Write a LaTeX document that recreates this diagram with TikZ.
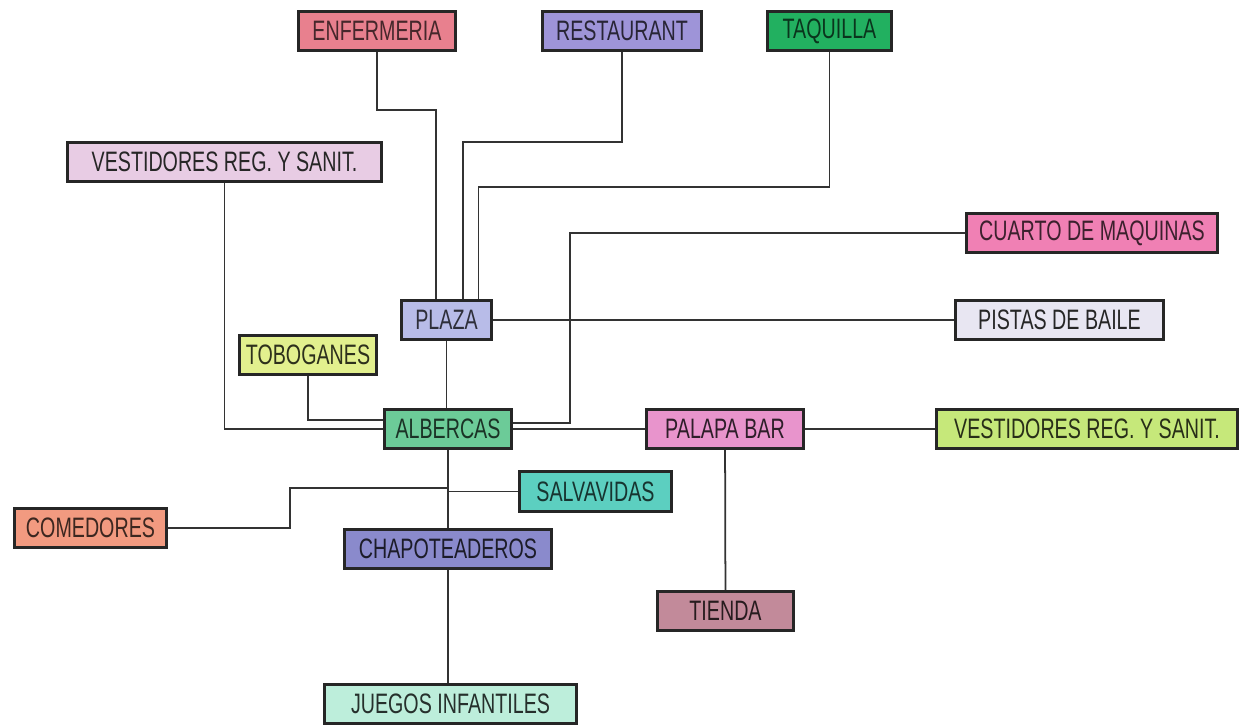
\documentclass[tikz,border=0pt]{standalone}
\usepackage{fontspec}
\newfontfamily\letracaja[FakeStretch=0.7]{Liberation Sans}
% colores de relleno
\definecolor{cEnf}{HTML}{E8808E}
\definecolor{cRest}{HTML}{9E94D8}
\definecolor{cTaq}{HTML}{22B060}
\definecolor{cVestI}{HTML}{E8CCE4}
\definecolor{cCuarto}{HTML}{F080B4}
\definecolor{cPlaza}{HTML}{B8BCE8}
\definecolor{cPistas}{HTML}{E8E6F2}
\definecolor{cTobog}{HTML}{E2F08E}
\definecolor{cAlb}{HTML}{6CCB98}
\definecolor{cPalapa}{HTML}{E894CC}
\definecolor{cVestD}{HTML}{C6E87A}
\definecolor{cSalv}{HTML}{5CCFC0}
\definecolor{cComed}{HTML}{F29A80}
\definecolor{cChapo}{HTML}{8A8ACC}
\definecolor{cTienda}{HTML}{C28A9A}
\definecolor{cJuegos}{HTML}{BDEEDB}
\tikzset{
  caja/.style={draw=black!85, line width=1.5pt, inner sep=0pt,
    minimum height=0.79cm, font=\letracaja\fontsize{16}{18}\selectfont},
  linea/.style={draw=black!80, line width=1pt}
}
\begin{document}
\begin{tikzpicture}[x=0.02cm,y=-0.02cm]
    \useasboundingbox (0,0) rectangle (1241,726);

    % Fila de arriba
    \node[caja, fill=cEnf, text=cEnf!30!black, minimum width=3.14cm] (enf) at (377,31) {ENFERMERIA};
    \node[caja, fill=cRest, text=cRest!25!black, minimum width=3.18cm] (rest) at (622,31) {RESTAURANT};
    \node[caja, fill=cTaq, text=cTaq!30!black, minimum width=2.48cm] (taq) at (829.5,31) {TAQUILLA};
    \node[caja, fill=cVestI, text=black!85, minimum width=6.28cm] (vestI) at (224.5,162) {VESTIDORES REG. Y SANIT.};
    \node[caja, fill=cCuarto, text=cCuarto!25!black, minimum width=5.02cm] (cuarto) at (1092,233) {CUARTO DE MAQUINAS};

    % Plaza y albercas
    \node[caja, fill=cPlaza, text=cPlaza!25!black, minimum width=1.80cm] (plaza) at (446.5,320) {PLAZA};
    \node[caja, fill=cPistas, text=black!85, minimum width=4.16cm] (pistas) at (1059.5,320) {PISTAS DE BAILE};
    \node[caja, fill=cTobog, text=cTobog!20!black, minimum width=2.74cm] (tobog) at (308,355) {TOBOGANES};
    \node[caja, fill=cAlb, text=cAlb!25!black, minimum width=2.54cm] (alb) at (448,429) {ALBERCAS};
    \node[caja, fill=cPalapa, text=cPalapa!20!black, minimum width=3.14cm] (palapa) at (725,429) {PALAPA BAR};
    \node[caja, fill=cVestD, text=cVestD!20!black, minimum width=6.02cm] (vestD) at (1087,429) {VESTIDORES REG. Y SANIT.};

    % Parte de abajo
    \node[caja, fill=cSalv, text=cSalv!25!black, minimum width=3.04cm] (salv) at (595.5,491.5) {SALVAVIDAS};
    \node[caja, fill=cComed, text=cComed!25!black, minimum width=3.04cm] (comed) at (90.5,528) {COMEDORES};
    \node[caja, fill=cChapo, text=cChapo!20!black, minimum width=4.14cm] (chapo) at (448,549) {CHAPOTEADEROS};
    \node[caja, fill=cTienda, text=cTienda!20!black, minimum width=2.72cm] (tienda) at (725.5,611) {TIENDA};
    \node[caja, fill=cJuegos, text=cJuegos!20!black, minimum width=5.04cm] (juegos) at (450.5,704) {JUEGOS INFANTILES};

    % Lineas hacia la plaza
    \draw[linea] (enf.south) -- ++(0,58) -| ([xshift=-0.21cm]plaza.north);
    \draw[linea] (rest.south) -- ++(0,90) -| ([xshift=0.33cm]plaza.north);
    \draw[linea] (taq.south) -- ++(0,135) -| ([xshift=0.64cm]plaza.north);
    \draw[linea] (plaza) -- (pistas);
    \draw[linea] (plaza.south) -- (plaza.south |- alb.north);

    % Lineas de albercas
    \draw[linea] (cuarto.west) -| (570,423) -- ([yshift=0.12cm]alb.east);
    \draw[linea] (vestI.south) |- (alb.west);
    \draw[linea] (tobog.south) |- ([yshift=0.18cm]alb.west);
    \draw[linea] (alb) -- (palapa);
    \draw[linea] (palapa) -- (vestD);
    \draw[linea] (palapa) -- (tienda);
    \draw[linea] (alb) -- (chapo);
    \draw[linea] (chapo.south) -- (chapo.south |- juegos.north);
    \draw[linea] (salv.west) -- (salv.west -| alb.south);
    \draw[linea] (comed.east) -| (290,488) -- (alb.south |- 290,488);
\end{tikzpicture}
\end{document}
